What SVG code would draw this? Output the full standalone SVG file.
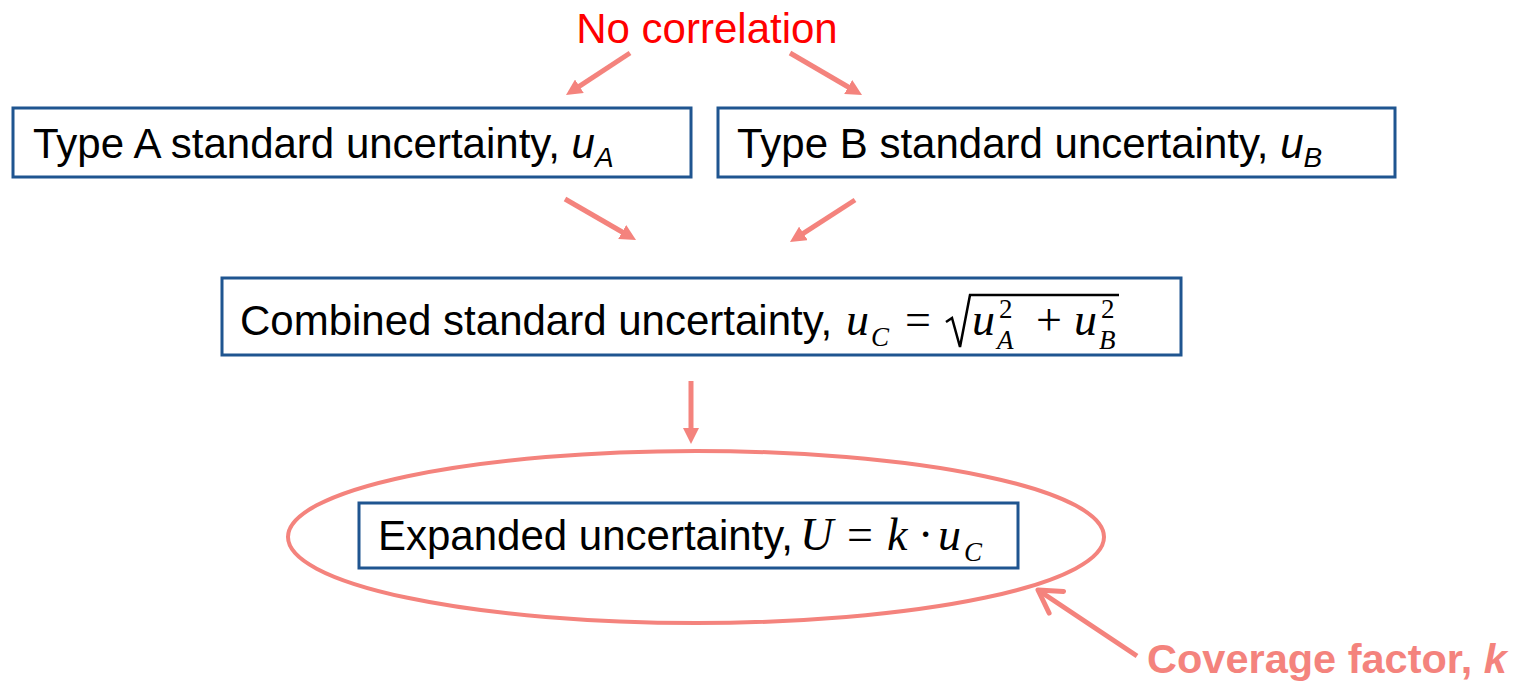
<svg xmlns="http://www.w3.org/2000/svg" width="1517" height="682" viewBox="0 0 1517 682">
  <style>
    .box { fill: #ffffff; stroke: #1F5590; stroke-width: 3; }
    .lbl { font-family: "Liberation Sans", Arial, sans-serif; font-size: 42px; fill: #000000; }
    .it { font-style: italic; }
    .sub { font-size: 28px; }
    .m { font-family: "Liberation Serif", "Times New Roman", serif; font-size: 46px; fill: #000000; }
    .mi { font-family: "Liberation Serif", "Times New Roman", serif; font-size: 46px; font-style: italic; fill: #000000; }
    .ms { font-family: "Liberation Serif", "Times New Roman", serif; font-size: 27px; fill: #000000; }
    .msi { font-family: "Liberation Serif", "Times New Roman", serif; font-size: 27px; font-style: italic; fill: #000000; }
    .arr { stroke: #F4837D; stroke-width: 5; fill: none; }
  </style>
  <defs>
    <marker id="head" viewBox="0 0 10 10" refX="5" refY="5" markerWidth="16" markerHeight="16" markerUnits="userSpaceOnUse" orient="auto">
      <path d="M0,0 L10,5 L0,10 Z" fill="#F4837D"/>
    </marker>
    <marker id="openhead" viewBox="-28 -18 32 36" refX="0" refY="0" markerWidth="32" markerHeight="36" markerUnits="userSpaceOnUse" orient="auto">
      <path d="M-22,-13 L0,0 L-22,13" fill="none" stroke="#F4837D" stroke-width="5" stroke-linecap="round" stroke-linejoin="round"/>
    </marker>
  </defs>

  <g id="no-correlation">
    <text x="707" y="43" text-anchor="middle" font-family="Liberation Sans, Arial, sans-serif" font-size="42" fill="#FF0000">No correlation</text>
  </g>

  <g id="typeA">
    <rect class="box" x="13" y="108" width="678" height="69"/>
    <text class="lbl" x="33" y="158">Type A standard uncertainty, <tspan class="it">u</tspan><tspan class="it sub" dy="9">A</tspan></text>
  </g>

  <g id="typeB">
    <rect class="box" x="718" y="108" width="677" height="69"/>
    <text class="lbl" x="737" y="158">Type B standard uncertainty, <tspan class="it">u</tspan><tspan class="it sub" dy="9">B</tspan></text>
  </g>

  <g id="combined">
    <rect class="box" x="222" y="278" width="959" height="77"/>
    <text class="lbl" x="240" y="335">Combined standard uncertainty,</text>
    <text class="mi" x="846" y="335">u</text>
    <text class="msi" x="871" y="346">C</text>
    <text class="m" x="905" y="335">=</text>
    <polyline points="946,322 952,318 960,347 970,295 1119,295" fill="none" stroke="#000" stroke-width="2.5" stroke-linejoin="miter"/>
    <text class="mi" x="972" y="335">u</text>
    <text class="ms" x="999" y="318">2</text>
    <text class="msi" x="997" y="349">A</text>
    <text class="m" x="1036" y="335">+</text>
    <text class="mi" x="1074" y="335">u</text>
    <text class="ms" x="1101" y="318">2</text>
    <text class="msi" x="1099" y="349">B</text>
  </g>

  <g id="expanded">
    <rect class="box" x="359" y="503" width="659" height="65"/>
    <text class="lbl" x="378" y="550">Expanded uncertainty,</text>
    <text class="mi" x="800" y="550">U</text>
    <text class="m" x="847" y="550">=</text>
    <text class="mi" x="887" y="550">k</text>
    <text class="m" x="918" y="550">·</text>
    <text class="mi" x="938" y="550">u</text>
    <text class="msi" x="964" y="561">C</text>
  </g>

  <g id="coverage">
    <ellipse cx="696" cy="537" rx="408" ry="86" fill="none" stroke="#F4837D" stroke-width="4"/>
    <text x="1147" y="673" font-family="Liberation Sans, Arial, sans-serif" font-size="41.5" font-weight="bold" fill="#F4837D">Coverage factor, <tspan font-style="italic">k</tspan></text>
  </g>

  <g id="connectors">
    <line class="arr" x1="630" y1="53" x2="572.7" y2="90.6" marker-end="url(#head)"/>
    <line class="arr" x1="790" y1="53" x2="855.1" y2="91" marker-end="url(#head)"/>
    <line class="arr" x1="565" y1="199" x2="629.1" y2="236" marker-end="url(#head)"/>
    <line class="arr" x1="855" y1="200" x2="796.7" y2="237.7" marker-end="url(#head)"/>
    <line class="arr" x1="691" y1="381" x2="691" y2="436" marker-end="url(#head)"/>
    <line class="arr" x1="1137" y1="656" x2="1038" y2="590" marker-end="url(#openhead)"/>
  </g>
</svg>
